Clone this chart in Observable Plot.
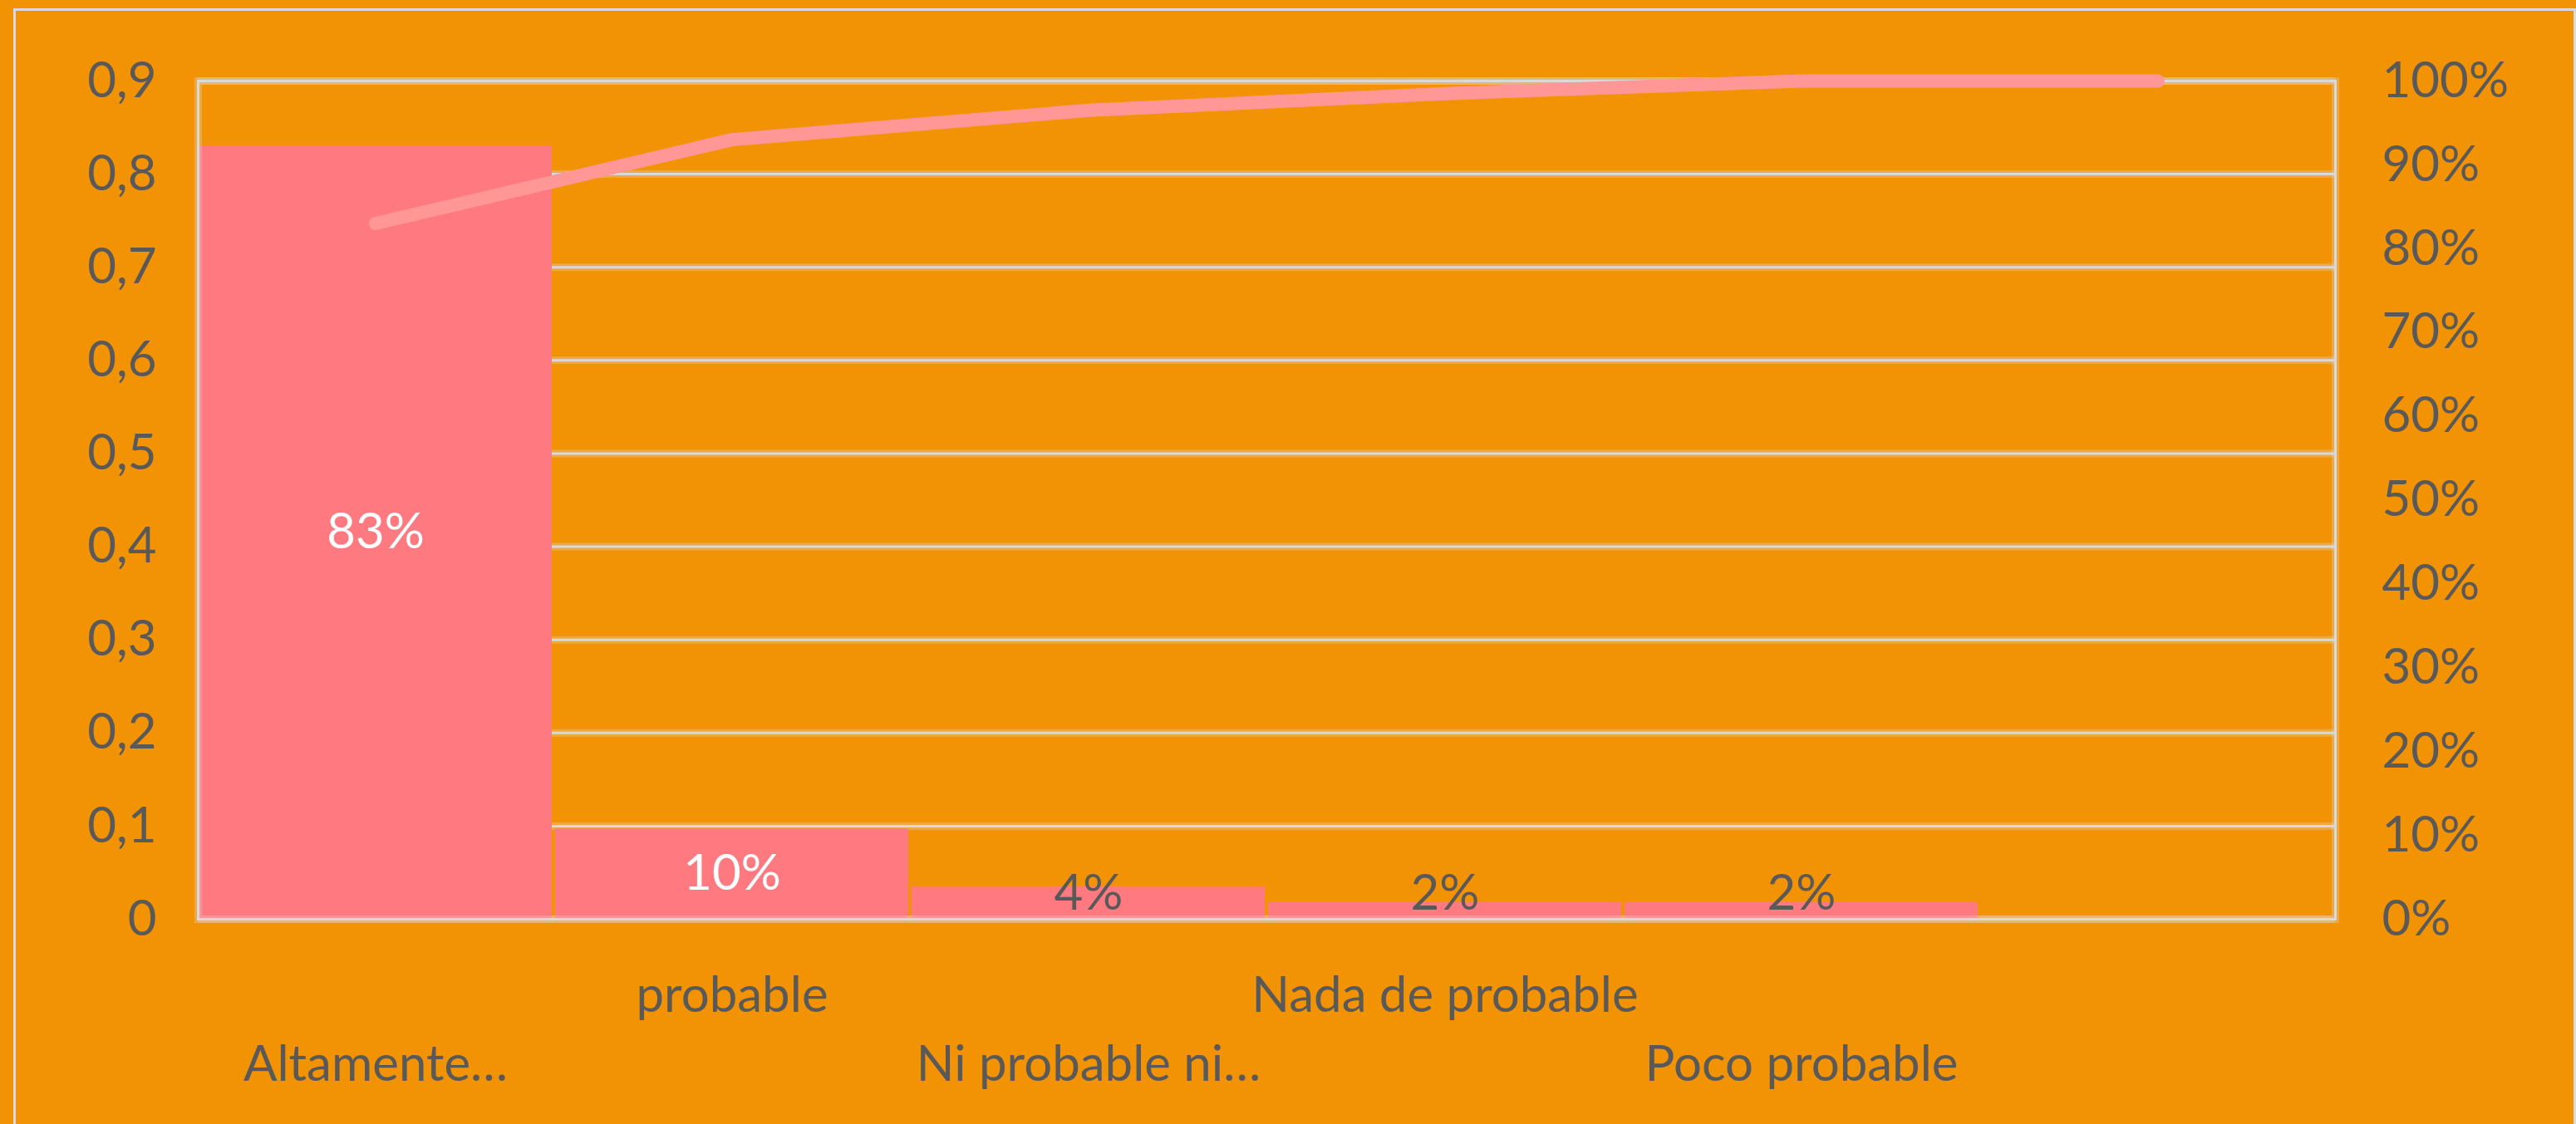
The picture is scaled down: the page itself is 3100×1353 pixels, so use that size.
<!DOCTYPE html>
<html>
<head>
<meta charset="utf-8">
<script src="https://cdn.jsdelivr.net/npm/d3@7"></script>
<script src="https://cdn.jsdelivr.net/npm/@observablehq/plot@0.6"></script>
<style>
  html, body { margin: 0; padding: 0; background: #F29306; }
  #wrap { position: relative; width: 3100px; height: 1353px; overflow: hidden; }
  #border { position: absolute; left: 16px; top: 10px; width: 3084px; height: 1400px;
            border: 3px solid #d9d9d9; box-sizing: border-box; pointer-events: none; }
  svg { display: block; }
</style>
</head>
<body>
<div id="wrap"><div id="chart"></div><div id="border"></div></div>
<script>
// ---- data ----
const categories = ["Altamente…", "probable", "Ni probable ni…", "Nada de probable", "Poco probable", ""];
const shares = [0.83, 0.097, 0.035, 0.018, 0.018, null];
const cumulative = [0.83, 0.93, 0.965, 0.985, 1.0, 1.0];
const leftTicks = [0, 0.1, 0.2, 0.3, 0.4, 0.5, 0.6, 0.7, 0.8, 0.9];
const leftTickLabels = ["0", "0,1", "0,2", "0,3", "0,4", "0,5", "0,6", "0,7", "0,8", "0,9"];
const rightTicks = [0, 0.1, 0.2, 0.3, 0.4, 0.5, 0.6, 0.7, 0.8, 0.9, 1.0];
const rightTickLabels = ["0%", "10%", "20%", "30%", "40%", "50%", "60%", "70%", "80%", "90%", "100%"];

// ---- derived tables ----
const yMax = 0.9;               // left axis max; right axis 100% maps to this
const labelFloor = 0.0277;      // labels of tiny bars sit above the axis
const barData = categories.map((c, i) => ({category: c, share: shares[i]})).filter(d => d.share != null);
const lineData = categories.map((c, i) => ({category: c, cum: cumulative[i]}));
const rowTwo = categories.filter((c, i) => i % 2 === 0);
const rowOne = categories.filter((c, i) => i % 2 === 1 && c !== "");
const pct = d3.format(".0%");

const textColor = "#595959";
const gridColor = "#d9d9d9";
const fs = 60;

const chart = Plot.plot({
  width: 3100,
  height: 1353,
  marginLeft: 238,
  marginRight: 290,
  marginTop: 97,
  marginBottom: 247,
  style: {background: "transparent", fontFamily: "Lato, 'Open Sans', sans-serif", color: textColor, fontSize: fs + "px"},
  x: {domain: categories, paddingInner: 0.01, paddingOuter: 0},
  y: {domain: [0, yMax]},
  marks: [
    Plot.ruleY(leftTicks, {stroke: gridColor, strokeOpacity: 0.3, strokeWidth: 9}),
    Plot.ruleY(leftTicks, {stroke: gridColor, strokeWidth: 3}),
    Plot.barY(barData, {x: "category", y: "share", fill: "#FF7A80"}),
    Plot.frame({stroke: gridColor, strokeOpacity: 0.3, strokeWidth: 9}),
    Plot.frame({stroke: gridColor, strokeWidth: 3}),
    Plot.line(lineData, {x: "category", y: d => d.cum * yMax, stroke: "#FF9797", strokeWidth: 16, strokeLinejoin: "round"}),
    Plot.text(barData, {
      x: "category",
      y: d => Math.max(d.share / 2, labelFloor),
      text: d => pct(d.share),
      fill: d => d.share / 2 > labelFloor ? "white" : textColor,
      fontSize: fs
    }),
    Plot.axisY(leftTicks, {anchor: "left", tickSize: 0, tickPadding: 50, fontSize: fs, label: null,
      tickFormat: d => leftTickLabels[leftTicks.indexOf(d)]}),
    Plot.axisY(rightTicks.map(t => t * yMax), {anchor: "right", tickSize: 0, tickPadding: 56, fontSize: fs, label: null,
      tickFormat: d => rightTickLabels[rightTicks.findIndex(t => Math.abs(t * yMax - d) < 1e-9)]}),
    Plot.axisX(rowOne, {anchor: "bottom", tickSize: 0, tickPadding: 69, fontSize: fs, label: null}),
    Plot.axisX(rowTwo, {anchor: "bottom", tickSize: 0, tickPadding: 152, fontSize: fs, label: null})
  ]
});
document.getElementById("chart").appendChild(chart);
</script>
</body>
</html>
